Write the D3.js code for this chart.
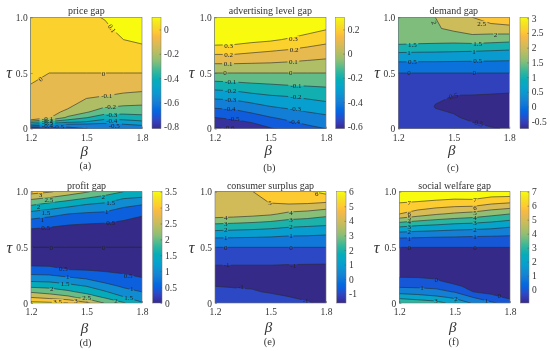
<!DOCTYPE html>
<html>
<head>
<meta charset="utf-8">
<script src="https://cdn.jsdelivr.net/npm/d3@7"></script>
<style>
  html, body { margin: 0; padding: 0; background: #fff; }
  text { font-family: "Liberation Serif", serif; fill: #333; }
  svg { filter: blur(.3px); }
</style>
</head>
<body>
<script>
// sample grid: one list per beta, bottom (tau=0) to top (tau=1)
var betas = [1.2, 1.3, 1.4, 1.5, 1.6, 1.7, 1.8];
var tausFine = [0, .02, .04, .06, .08, .1, .15, .2, .3, .4, .5, .6, .7, .8, .9, 1];
var taus = [0, .05, .1, .15, .2, .3, .4, .5, .6, .7, .8, .9, 1];

var priceGap = [
  [-.8, -.55, -.4, -.28, -.1, -.09, -.07, -.06, -.05, 0, .02, .03, .035, .04, .045, .05],
  [-.75, -.58, -.45, -.33, -.2, -.09, -.07, -.06, -.04, -.02, 0, .02, .03, .04, .045, .055],
  [-.65, -.58, -.5, -.38, -.3, -.22, -.12, -.085, -.04, -.02, 0, .02, .03, .04, .05, .07],
  [-.6, -.56, -.51, -.41, -.35, -.295, -.19, -.15, -.08, -.03, 0, .02, .035, .05, .065, .085],
  [-.58, -.55, -.52, -.47, -.41, -.36, -.26, -.19, -.095, -.03, 0, .025, .045, .065, .085, .105],
  [-.56, -.53, -.5, -.45, -.4, -.35, -.27, -.205, -.115, -.04, 0, .03, .06, .1, .125, .14],
  [-.55, -.52, -.48, -.42, -.38, -.33, -.27, -.21, -.125, -.05, 0, .04, .085, .11, .14, .16]
];
var advertisingGap = [
  [-.61, -.55, -.5, -.44, -.38, -.26, -.135, 0, .12, .24, .36, .44, .5],
  [-.6, -.54, -.48, -.425, -.37, -.25, -.125, 0, .12, .24, .35, .44, .5],
  [-.57, -.505, -.445, -.39, -.335, -.22, -.11, 0, .115, .22, .33, .41, .47],
  [-.51, -.455, -.405, -.35, -.3, -.2, -.1, 0, .11, .205, .315, .39, .44],
  [-.46, -.42, -.375, -.325, -.28, -.19, -.09, 0, .1, .19, .29, .37, .42],
  [-.43, -.385, -.345, -.3, -.26, -.17, -.085, 0, .09, .17, .26, .34, .4],
  [-.4, -.355, -.32, -.28, -.235, -.155, -.08, 0, .08, .155, .23, .31, .37]
];
var demandGap = [
  [-.3, -.32, -.33, -.34, -.36, -.38, -.25, 0, .5, 1.1, 1.8, 1.88, 1.92],
  [-.35, -.37, -.39, -.41, -.43, -.45, -.28, 0, .49, 1.08, 1.75, 1.85, 1.95],
  [-.42, -.44, -.46, -.49, -.505, -.48, -.3, 0, .49, 1.07, 1.72, 1.95, 2],
  [-.45, -.47, -.49, -.505, -.52, -.5, -.3, 0, .48, 1.05, 1.7, 2.1, 2.25],
  [-.47, -.495, -.52, -.54, -.55, -.505, -.32, 0, .47, 1.03, 1.75, 2.3, 2.5],
  [-.49, -.52, -.54, -.56, -.57, -.52, -.33, 0, .46, 1, 1.7, 2.3, 2.75],
  [-.51, -.53, -.55, -.57, -.58, -.54, -.34, 0, .45, .96, 1.65, 2.35, 2.85]
];
var profitGap = [
  [3.65, 3, 2.45, 1.9, 1.44, .65, .2, -.001, .2, .65, 1.3, 2.2, 3.2],
  [3.6, 2.85, 2.3, 1.85, 1.4, .63, .19, -.001, .18, .58, 1.15, 2, 3.05],
  [3.5, 2.65, 2.1, 1.7, 1.25, .5, .15, -.001, .15, .5, 1, 1.8, 2.8],
  [3.1, 2.3, 1.85, 1.5, 1.1, .47, .13, -.001, .13, .45, .92, 1.6, 2.55],
  [2.45, 1.95, 1.55, 1.2, .87, .42, .12, -.001, .12, .42, .88, 1.5, 2.25],
  [2.05, 1.55, 1.2, .93, .72, .37, .1, -.001, .1, .35, .72, 1.2, 2],
  [1.55, 1.25, 1, .8, .58, .3, .09, -.001, .09, .3, .55, 1.1, 1.9]
];
var surplusGap = [
  [-.9, -.93, -.97, -1, -1.05, -1.2, -.7, 0, 1.18, 2.8, 4.6, 4.8, 4.9],
  [-.9, -.94, -.97, -1.01, -1.08, -1.2, -.7, 0, 1.15, 2.7, 4.5, 4.8, 4.95],
  [-.88, -.92, -.97, -1.03, -1.1, -1.2, -.7, 0, 1.12, 2.6, 4.35, 4.75, 4.98],
  [-.84, -.91, -1.03, -1.08, -1.13, -1.2, -.7, 0, 1.07, 2.45, 4.15, 5.02, 5.3],
  [-.8, -.99, -1.06, -1.12, -1.18, -1.25, -.7, 0, .97, 2.25, 3.75, 5.15, 5.6],
  [-.97, -1.05, -1.1, -1.15, -1.2, -1.27, -.7, 0, .95, 2.15, 3.6, 5.1, 5.85],
  [-1.08, -1.13, -1.18, -1.22, -1.25, -1.3, -.7, 0, .87, 2.05, 3.3, 4.95, 6.3]
];
var welfareGap = [
  [3.9, 2.75, 1.65, .85, .2, -.45, -.4, 0, 1.2, 3.35, 6, 7, 7.8],
  [3.7, 2.5, 1.55, .8, .2, -.5, -.4, 0, 1.15, 3.1, 5.5, 6.9, 7.8],
  [3.4, 2.25, 1.3, .75, .1, -.55, -.4, 0, 1.1, 2.95, 5.1, 6.75, 7.8],
  [2.6, 1.85, .95, .2, -.35, -.6, -.4, 0, 1.07, 2.75, 4.85, 6.6, 7.8],
  [1.9, 1, 0, -.3, -.45, -.65, -.4, 0, 1.03, 2.65, 4.65, 6.6, 7.9],
  [1.2, .25, -.2, -.4, -.55, -.7, -.4, 0, 1, 2.5, 4.3, 6.2, 7.7],
  [.4, -.15, -.4, -.5, -.6, -.7, -.4, 0, .95, 2.25, 4, 6, 7.75]
];

// contour levels
var priceLevels = [-.8, -.7, -.6, -.5, -.4, -.3, -.2, -.1, 0, .1];
var advertisingLevels = [-.6, -.5, -.4, -.3, -.2, -.1, 0, .1, .2, .3];
var demandLevels = [-.5, 0, .5, 1, 1.5, 2, 2.5];
var profitLevels = [0, .5, 1, 1.5, 2, 2.5, 3, 3.5];
var surplusLevels = [-1, 0, 1, 2, 3, 4, 5, 6];
var welfareLevels = [0, 1, 2, 3, 4, 5, 6, 7];

// contour labels: beta, tau, text, angle
var priceLabels = [[1.638, .9, "0.1", 55], [1.254, .446, "0", -35], [1.593, .497, "0"], [1.61, .3, "-0.1"], [1.63, .195, "-0.2"], [1.637, .13, "-0.3"], [1.637, .075, "-0.4"], [1.65, .03, "-0.5"], [1.29, .093, "-0.1"], [1.29, .072, "-0.2"], [1.29, .05, "-0.3"], [1.29, .03, "-0.4"], [1.35, .018, "-0.5"]];
var advertisingLabels = [[1.275, .743, "0.3"], [1.624, .811, "0.3"], [1.275, .662, "0.2"], [1.628, .713, "0.2"], [1.272, .581, "0.1"], [1.624, .602, "0.1"], [1.256, .503, "0"], [1.61, .503, "0"], [1.286, .419, "-0.1"], [1.638, .389, "-0.1"], [1.286, .338, "-0.2"], [1.638, .284, "-0.2"], [1.286, .257, "-0.3"], [1.636, .18, "-0.3"], [1.282, .177, "-0.4"], [1.63, .066, "-0.4"], [1.304, .093, "-0.5"], [1.277, .012, "-0.6"]];
var demandLabels = [[1.393, .952, "2", 70], [1.65, .946, "2.5"], [1.726, .841, "2"], [1.276, .751, "1.5"], [1.629, .766, "1.5"], [1.258, .683, "1"], [1.609, .692, "1"], [1.276, .599, "0.5"], [1.629, .608, "0.5"], [1.258, .5, "0"], [1.611, .5, "0"], [1.492, .29, "-0.5", -15], [1.629, .051, "-0.5", 15]];
var profitLabels = [[1.252, .976, "3"], [1.297, .925, "2.5"], [1.24, .864, "2"], [1.281, .81, "1.5"], [1.261, .75, "1"], [1.279, .675, "0.5"], [1.31, .5, "0"], [1.591, .955, "2"], [1.63, .9, "1.5"], [1.61, .819, "1"], [1.63, .726, "0.5"], [1.593, .5, "0"], [1.375, .31, "0.5"], [1.398, .235, "1"], [1.384, .172, "1.5"], [1.312, .133, "2"], [1.344, .012, "3.5"], [1.443, .024, "3"], [1.5, .045, "2.5"], [1.659, .018, "2"], [1.728, .048, "1.5"], [1.744, .127, "1"], [1.725, .244, "0.5"]];
var surplusLabels = [[1.75, .985, "6"], [1.497, .9, "5"], [1.258, .766, "4"], [1.258, .715, "3"], [1.258, .66, "2"], [1.258, .586, "1"], [1.258, .498, "0"], [1.263, .34, "-1"], [1.611, .811, "4"], [1.611, .745, "3"], [1.611, .682, "2"], [1.611, .604, "1"], [1.611, .5, "0"], [1.623, .336, "-1"], [1.34, .144, "-1"], [1.69, .018, "-1"]];
var welfareLabels = [[1.254, .898, "7"], [1.254, .802, "6"], [1.254, .763, "5"], [1.254, .727, "4"], [1.254, .685, "3"], [1.254, .64, "2"], [1.254, .58, "1"], [1.254, .5, "0"], [1.61, .928, "7"], [1.61, .856, "6"], [1.61, .814, "5"], [1.61, .766, "4"], [1.61, .718, "3"], [1.61, .66, "2"], [1.61, .595, "1"], [1.61, .5, "0"], [1.4, .21, "0"], [1.323, .135, "1"], [1.399, .02, "3"], [1.507, .036, "2"], [1.672, .02, "1"], [1.742, .063, "0"]];

var betaTicks = [1.2, 1.5, 1.8];
var tauTicks = [0, .5, 1];

// parula
var parula = ["#352a87", "#3638b1", "#2c4ac6", "#0f5cdd", "#036bdf", "#1278d8", "#1485d4", "#0d93d1", "#069fcf", "#06a7c6", "#06acb9", "#1eb2a8", "#3ab898", "#62bc88", "#8abe77", "#a4be6a", "#bcbd60", "#d2bb58", "#e6ba4f", "#f8ba43", "#feca32", "#f8d928", "#f5e91e", "#f9fb0e"];
var parulaColor = d3.piecewise(d3.interpolateRgb, parula);

var panels = [
  { title: "price gap", tag: "(a)", x0: 30.7, x1: 142, y0: 17.3, y1: 128.7, cb: [152, 161], domain: [-.816, .1], cbTicks: [0, -.2, -.4, -.6, -.8], levels: priceLevels, rows: tausFine, grid: priceGap, labels: priceLabels, betaY: 150.7, tagY: 166, tauX: 9 },
  { title: "advertising level gap", tag: "(b)", x0: 214.7, x1: 326, y0: 17.3, y1: 128.7, cb: [335.7, 344.7], domain: [-.62, .3], cbTicks: [.2, 0, -.2, -.4, -.6], levels: advertisingLevels, rows: taus, grid: advertisingGap, labels: advertisingLabels, betaY: 150, tagY: 168, tauX: 191.7 },
  { title: "demand gap", tag: "(c)", x0: 398.3, x1: 509.3, y0: 17.3, y1: 128.7, cb: [520, 528.7], domain: [-.75, 3.03], cbTicks: [3, 2.5, 2, 1.5, 1, .5, 0, -.5], levels: demandLevels, rows: taus, grid: demandGap, labels: demandLabels, betaY: 150, tagY: 168, tauX: 377 },
  { title: "profit gap", tag: "(d)", x0: 31, x1: 142, y0: 191.7, y1: 303, cb: [152.7, 162], domain: [0, 3.5], cbTicks: [3.5, 3, 2.5, 2, 1.5, 1, .5, 0], levels: profitLevels, rows: taus, grid: profitGap, labels: profitLabels, betaY: 327.7, tagY: 342.7, tauX: 9.3 },
  { title: "consumer surplus gap", tag: "(e)", x0: 215, x1: 326, y0: 191.7, y1: 303, cb: [336.7, 346], domain: [-1.63, 6], cbTicks: [6, 5, 4, 3, 2, 1, 0, -1], levels: surplusLevels, rows: taus, grid: surplusGap, labels: surplusLabels, betaY: 327, tagY: 341.7, tauX: 191.7 },
  { title: "social welfare gap", tag: "(f)", x0: 399.3, x1: 510, y0: 191.7, y1: 303, cb: [520.3, 529], domain: [-.95, 7], cbTicks: [7, 6, 5, 4, 3, 2, 1, 0], levels: welfareLevels, rows: taus, grid: welfareGap, labels: welfareLabels, betaY: 327, tagY: 341.7, tauX: 376.7 }
];

var svg = d3.select("body").append("svg").attr("width", 550).attr("height", 351).style("display", "block");
var defs = svg.append("defs");

defs.append("linearGradient").attr("id", "parula").attr("x1", 0).attr("y1", 1).attr("x2", 0).attr("y2", 0)
  .selectAll("stop").data(parula).enter().append("stop")
  .attr("offset", function (d, i) { return i / (parula.length - 1); })
  .attr("stop-color", function (d) { return d; });

panels.forEach(function (p, n) {
  var x = d3.scaleLinear().domain([1.2, 1.8]).range([p.x0, p.x1]);
  var y = d3.scaleLinear().domain([0, 1]).range([p.y1, p.y0]);
  var color = d3.scaleLinear().domain(p.domain).range([0, 1]).clamp(true);

  // d3.contours puts sample i at i + 0.5, so map grid units back to beta / tau
  var gridX = d3.scaleLinear().domain(betas.map(function (b, i) { return i + .5; })).range(betas);
  var gridY = d3.scaleLinear().domain(p.rows.map(function (t, i) { return i + .5; })).range(p.rows);
  var project = d3.geoTransform({
    point: function (gx, gy) { this.stream.point(x(gridX(gx)), y(gridY(gy))); }
  });
  var path = d3.geoPath(project);

  var values = [];
  p.rows.forEach(function (t, j) {
    betas.forEach(function (b, i) { values.push(p.grid[i][j]); });
  });
  var contours = d3.contours().size([betas.length, p.rows.length]).thresholds(p.levels)(values);

  defs.append("clipPath").attr("id", "clip" + n).append("rect")
    .attr("x", p.x0).attr("y", p.y0).attr("width", p.x1 - p.x0).attr("height", p.y1 - p.y0);

  // holes in the contour lines where the labels sit
  var mask = defs.append("mask").attr("id", "gaps" + n).attr("maskUnits", "userSpaceOnUse")
    .attr("x", 0).attr("y", 0).attr("width", 550).attr("height", 351);
  mask.append("rect").attr("width", 550).attr("height", 351).attr("fill", "#fff");
  mask.selectAll("rect.gap").data(p.labels).enter().append("rect").attr("class", "gap")
    .attr("fill", "#000")
    .attr("x", function (d) { return -d[2].length * 1.8 - .5; })
    .attr("y", -2.5)
    .attr("width", function (d) { return d[2].length * 3.6 + 1; })
    .attr("height", 5)
    .attr("transform", function (d) { return "translate(" + x(d[0]) + "," + y(d[1]) + ") rotate(" + (d[3] || 0) + ")"; });

  var g = svg.append("g");
  var plot = g.append("g").attr("clip-path", "url(#clip" + n + ")");

  plot.append("rect").attr("x", p.x0).attr("y", p.y0).attr("width", p.x1 - p.x0).attr("height", p.y1 - p.y0)
    .attr("fill", parulaColor(0));

  plot.selectAll("path.band").data(contours).enter().append("path").attr("class", "band")
    .attr("d", path)
    .attr("fill", function (d) { return parulaColor(color(d.value)); });

  plot.append("g").attr("mask", "url(#gaps" + n + ")")
    .selectAll("path.line").data(contours).enter().append("path").attr("class", "line")
    .attr("d", path)
    .attr("fill", "none")
    .attr("stroke", "#2a2a30")
    .attr("stroke-width", .6);

  plot.selectAll("text").data(p.labels).enter().append("text")
    .attr("transform", function (d) { return "translate(" + x(d[0]) + "," + y(d[1]) + ") rotate(" + (d[3] || 0) + ")"; })
    .attr("text-anchor", "middle")
    .attr("dy", ".33em")
    .style("font-size", "7px")
    .style("fill", "#222")
    .text(function (d) { return d[2]; });

  // frame and axes
  g.append("rect").attr("x", p.x0).attr("y", p.y0).attr("width", p.x1 - p.x0).attr("height", p.y1 - p.y0)
    .attr("fill", "none").attr("stroke", "#777").attr("stroke-width", .6);

  var xAxis = d3.axisBottom(x).tickValues(betaTicks).tickSizeInner(-2).tickSizeOuter(0).tickPadding(5.5)
    .tickFormat(d3.format(".1f"));
  var yAxis = d3.axisLeft(y).tickValues(tauTicks).tickSizeInner(-2).tickSizeOuter(0).tickPadding(3)
    .tickFormat(function (d) { return d === 0 ? "0" : d.toFixed(1); });
  g.append("g").attr("transform", "translate(0," + p.y1 + ")").call(xAxis).call(styleAxis);
  g.append("g").attr("transform", "translate(" + p.x0 + ",0)").call(yAxis).call(styleAxis);

  // colorbar
  var cy = d3.scaleLinear().domain(p.domain).range([p.y1, p.y0]);
  g.append("rect").attr("x", p.cb[0]).attr("y", p.y0).attr("width", p.cb[1] - p.cb[0]).attr("height", p.y1 - p.y0)
    .attr("fill", "url(#parula)").attr("stroke", "#777").attr("stroke-width", .5);
  var cAxis = d3.axisRight(cy).tickValues(p.cbTicks).tickSizeInner(-1.5).tickSizeOuter(0).tickPadding(3)
    .tickFormat(function (d) { return String(d); });
  g.append("g").attr("transform", "translate(" + p.cb[1] + ",0)").call(cAxis).call(styleAxis);

  // text
  g.append("text").attr("x", (p.x0 + p.x1) / 2).attr("y", p.y0 - 3).attr("text-anchor", "middle")
    .style("font-size", "10px").text(p.title);
  g.append("text").attr("x", (p.x0 + p.x1) / 2 - 2).attr("y", p.betaY).attr("dy", ".35em").attr("text-anchor", "middle")
    .style("font-size", "15px").style("font-style", "italic").text("β");
  g.append("text").attr("x", p.tauX).attr("y", n < 3 ? 73 : 248).attr("dy", ".3em").attr("text-anchor", "middle")
    .style("font-size", "16px").style("font-style", "italic").text("τ");
  g.append("text").attr("x", (p.x0 + p.x1) / 2 - 1).attr("y", p.tagY).attr("dy", ".33em").attr("text-anchor", "middle")
    .style("font-size", "10.5px").text(p.tag);
});

function styleAxis(sel) {
  sel.select(".domain").remove();
  sel.selectAll("line").attr("stroke", "#555").attr("stroke-width", .5);
  sel.selectAll("text").style("font-size", "9.5px").style("font-family", '"Liberation Serif", serif').attr("fill", "#333");
}
</script>
</body>
</html>
